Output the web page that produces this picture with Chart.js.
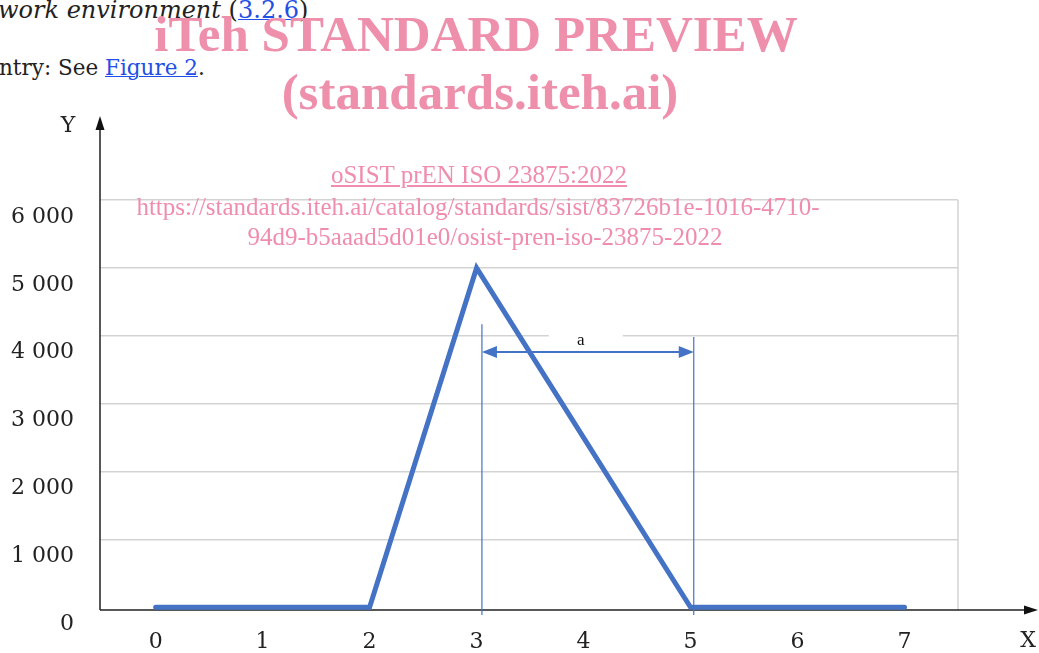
<!DOCTYPE html>
<html>
<head>
<meta charset="utf-8">
<script src="https://cdn.jsdelivr.net/npm/chart.js@4/dist/chart.umd.min.js"></script>
<style>
  html, body { margin: 0; padding: 0; background: #fff; }
  body { width: 1039px; height: 653px; position: relative; overflow: hidden; }
  #chartBox { position: absolute; left: 0; top: 0; width: 1039px; height: 653px; }
  .doc { position: absolute; left: 0; font-family: "DejaVu Serif", serif; font-size: 21.5px; color: #222; white-space: nowrap; line-height: 1; }
  .doc a { color: #1f4fe6; text-decoration: underline; text-decoration-thickness: 1px; }
  .wm { position: absolute; width: 1000px; text-align: center; font-family: "Liberation Serif", serif; color: #ee8fab; white-space: nowrap; line-height: 1; z-index: 2; }
  .big { font-size: 51px; font-weight: bold; }
  .small { font-size: 25px; color: #f08cae; }
</style>
</head>
<body>
<div class="doc" style="top:-2px;left:-2px;font-size:24px;"><i>work environment</i> (<a>3.2.6</a>)</div>
<div class="doc" style="top:57px;left:-1px;">ntry: See <a>Figure 2</a>.</div>

<div class="wm big" style="top:9px;left:-24px;">iTeh STANDARD PREVIEW</div>
<div class="wm big" style="top:67px;left:-20px;">(standards.iteh.ai)</div>
<div class="wm small" style="top:162px;left:-21px;"><u>oSIST prEN ISO 23875:2022</u></div>
<div class="wm small" style="top:194px;left:-22px;">https://standards.iteh.ai/catalog/standards/sist/83726b1e-1016-4710-</div>
<div class="wm small" style="top:224px;left:-15px;">94d9-b5aaad5d01e0/osist-pren-iso-23875-2022</div>

<div id="chartBox"><canvas id="mainChart" width="1039" height="653"></canvas></div>

<script>
// data
const xTicks = [0, 1, 2, 3, 4, 5, 6, 7];
const xValues = [0, 1, 2, 3, 4, 5, 6, 7];
const yValues = [0, 0, 0, 5000, 2500, 0, 0, 0];
const yTicks = [0, 1000, 2000, 3000, 4000, 5000, 6000];
const yTickLabels = ['0', '1 000', '2 000', '3 000', '4 000', '5 000', '6 000'];

// dimension "a" between x = 3 and x = 5
const dimX = [3.05, 5.03];
const dimTop = [4170, 3980];
const dimLevel = 3760;
const dimLabel = 'a';

const lineBlue = '#4472c4';
const gridGrey = '#d3d3d3';
const serif = '"Liberation Serif", serif';
const labelFont = '"DejaVu Serif", serif';

function arrowHead(ctx, x, y, dir, len, half) {
    // dir: 'up' | 'right' | 'left'
    ctx.beginPath();
    if (dir === 'up') {
        ctx.moveTo(x, y); ctx.lineTo(x - half, y + len); ctx.lineTo(x + half, y + len);
    } else if (dir === 'right') {
        ctx.moveTo(x, y); ctx.lineTo(x - len, y - half); ctx.lineTo(x - len, y + half);
    } else {
        ctx.moveTo(x, y); ctx.lineTo(x + len, y - half); ctx.lineTo(x + len, y + half);
    }
    ctx.closePath();
    ctx.fill();
}

const axesPlugin = {
    id: 'axesArrows',
    beforeDatasetsDraw(chart) {
        const { ctx, chartArea: a } = chart;
        ctx.save();
        // right frame line
        ctx.strokeStyle = gridGrey;
        ctx.lineWidth = 1.5;
        ctx.beginPath();
        ctx.moveTo(a.right, a.top);
        ctx.lineTo(a.right, a.bottom);
        ctx.stroke();

        // axes with arrows
        ctx.strokeStyle = '#222';
        ctx.fillStyle = '#111';
        ctx.lineWidth = 1.5;
        ctx.beginPath();
        ctx.moveTo(a.left, a.bottom);
        ctx.lineTo(a.left, 128);
        ctx.moveTo(a.left, a.bottom);
        ctx.lineTo(1030, a.bottom);
        ctx.stroke();
        arrowHead(ctx, a.left, 116, 'up', 14, 4.5);
        arrowHead(ctx, 1038, a.bottom, 'right', 14, 4.5);

        ctx.font = '22px ' + labelFont;
        ctx.fillStyle = '#222';
        ctx.textAlign = 'center';
        ctx.textBaseline = 'middle';
        ctx.fillText('Y', 68, 126);
        ctx.fillText('X', 1028, 641);
        ctx.restore();
    },
    afterDatasetsDraw(chart) {
        const { ctx, scales: { x, y } } = chart;
        const x1 = x.getPixelForValue(dimX[0]);
        const x2 = x.getPixelForValue(dimX[1]);
        const yl = y.getPixelForValue(dimLevel);
        const yb = chart.chartArea.bottom + 5;
        ctx.save();

        // white patch behind the label
        const mid = (x1 + x2) / 2;
        const g = y.getPixelForValue(4000);
        ctx.fillStyle = '#fff';
        ctx.fillRect(mid - 39, g - 3, 74, 6);

        ctx.strokeStyle = lineBlue;
        ctx.lineWidth = 1.2;
        ctx.beginPath();
        ctx.moveTo(x1, y.getPixelForValue(dimTop[0]));
        ctx.lineTo(x1, yb);
        ctx.moveTo(x2, y.getPixelForValue(dimTop[1]));
        ctx.lineTo(x2, yb);
        ctx.stroke();

        ctx.lineWidth = 2;
        ctx.beginPath();
        ctx.moveTo(x1 + 10, yl);
        ctx.lineTo(x2 - 10, yl);
        ctx.stroke();
        ctx.fillStyle = lineBlue;
        arrowHead(ctx, x1, yl, 'left', 15, 6);
        arrowHead(ctx, x2, yl, 'right', 15, 6);

        ctx.fillStyle = '#111';
        ctx.font = '17px ' + serif;
        ctx.textAlign = 'center';
        ctx.textBaseline = 'middle';
        ctx.fillText(dimLabel, mid - 7, yl - 12);
        ctx.restore();
    }
};

function initChart() {
    const ctx = document.getElementById('mainChart');
    new Chart(ctx, {
        type: 'line',
        data: {
            datasets: [{
                data: xValues.map((v, i) => ({ x: v, y: yValues[i] })),
                borderColor: lineBlue,
                borderWidth: 5,
                borderCapStyle: 'round',
                borderJoinStyle: 'miter',
                tension: 0,
                pointRadius: 0,
                fill: false,
                clip: false
            }]
        },
        options: {
            responsive: false,
            animation: false,
            devicePixelRatio: 1,
            layout: { padding: { top: 200, right: 81, left: 0, bottom: 0 } },
            plugins: { legend: { display: false }, tooltip: { enabled: false } },
            scales: {
                x: {
                    type: 'linear',
                    min: -0.52,
                    max: 7.5,
                    grid: { display: false },
                    border: { display: false },
                    afterBuildTicks: (s) => { s.ticks = xTicks.map(v => ({ value: v })); },
                    afterFit: (s) => { s.height = 43; },
                    ticks: {
                        font: { family: labelFont, size: 22 },
                        color: '#222',
                        padding: 11,
                        maxRotation: 0,
                        callback: (v) => String(v)
                    }
                },
                y: {
                    min: -40,
                    max: 6000,
                    grid: {
                        color: (c) => (c.tick && c.tick.value === 0) ? 'rgba(0,0,0,0)' : gridGrey,
                        lineWidth: 1.5,
                        drawTicks: false
                    },
                    border: { display: false },
                    afterBuildTicks: (s) => { s.ticks = yTicks.map(v => ({ value: v })); },
                    afterFit: (s) => { s.width = 100; },
                    ticks: {
                        font: { family: labelFont, size: 22 },
                        color: '#222',
                        padding: 26,
                        labelOffset: 17,
                        callback: (v) => yTickLabels[yTicks.indexOf(v)]
                    }
                }
            }
        },
        plugins: [axesPlugin]
    });
}

window.onload = () => {
    initChart();
};
</script>
</body>
</html>
